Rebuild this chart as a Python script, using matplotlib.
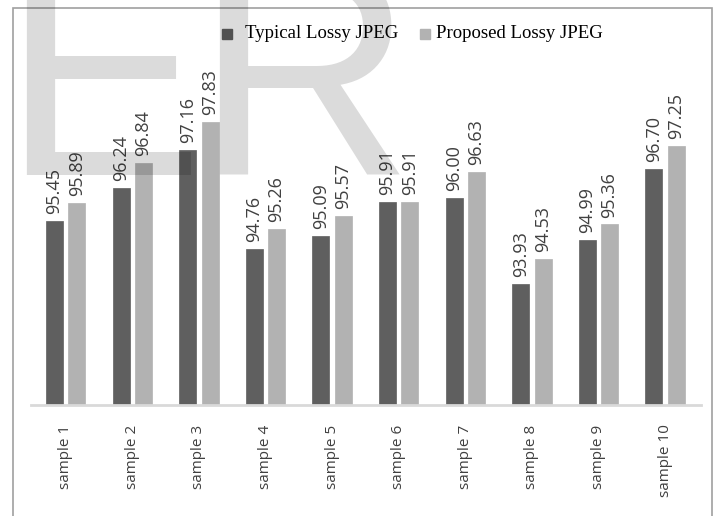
import numpy as np
import matplotlib.pyplot as plt
from matplotlib.patches import Rectangle

# data
samples = ["sample 1", "sample 2", "sample 3", "sample 4", "sample 5",
           "sample 6", "sample 7", "sample 8", "sample 9", "sample 10"]
typical = [95.45, 96.24, 97.16, 94.76, 95.09, 95.91, 96.00, 93.93, 94.99, 96.70]
proposed = [95.89, 96.84, 97.83, 95.26, 95.57, 95.91, 96.63, 94.53, 95.36, 97.25]
series_names = ["Typical Lossy JPEG", "Proposed Lossy JPEG"]

DARK = "#5f5f5f"
LIGHT = "#b2b2b2"
BASE = 91.0

fig = plt.figure(figsize=(7.2, 5.16), dpi=100)
ax = fig.add_axes([31 / 720, 1 - 405 / 516, 670 / 720, (405 - 73.8) / 516])

x = np.arange(len(samples))
w = 0.255
off = 0.168
for vals, color, dx in [(typical, DARK, -off), (proposed, LIGHT, off)]:
    ax.bar(x + dx, np.array(vals) - BASE, w, bottom=BASE, color=color,
           edgecolor=color, linewidth=0.5, zorder=2)
    for xi, v in zip(x, vals):
        ax.annotate(f"{v:.2f}", (xi + dx, v), xytext=(0, 5),
                    textcoords="offset points", rotation=90,
                    ha="center", va="bottom", fontsize=13,
                    family="Open Sans", color="#404040", zorder=3)

ax.set_xlim(-0.52, 9.54)
ax.set_ylim(BASE, 99)
ax.set_yticks([])
ax.set_xticks(x)
ax.set_xticklabels(samples, rotation=90, fontsize=11, family="Open Sans",
                   color="#404040")
ax.tick_params(axis="x", length=0, pad=14)
for s in ["top", "left", "right"]:
    ax.spines[s].set_visible(False)
ax.spines["bottom"].set_color("#d9d9d9")
ax.spines["bottom"].set_linewidth(2)
ax.patch.set_visible(False)

# legend drawn as text in the header area
fig.patches.append(Rectangle((222 / 720, 1 - 39 / 516), 10 / 720, 10 / 516,
                             transform=fig.transFigure, color=DARK))
fig.text(245 / 720, 1 - 33 / 516, series_names[0], family="Liberation Serif",
         fontsize=13.5, va="center", ha="left", color="black")
fig.patches.append(Rectangle((420 / 720, 1 - 39 / 516), 10 / 720, 10 / 516,
                             transform=fig.transFigure, color=LIGHT))
fig.text(436 / 720, 1 - 33 / 516, series_names[1], family="Liberation Serif",
         fontsize=13.5, va="center", ha="left", color="black")

# outer chart frame
fig.patches.append(Rectangle((13 / 720, -0.05), (712 - 13) / 720, 1.05 - 8 / 516,
                             transform=fig.transFigure, fill=False,
                             edgecolor="#a0a0a0", linewidth=1.2))

# watermark
fig.text(1 / 720, 1 - 175 / 516, "E", family="Liberation Sans", fontsize=218,
         color="black", alpha=0.14, ha="left", va="baseline", zorder=10)
fig.text(194 / 720, 1 - 175 / 516, "R", family="Liberation Sans", fontsize=218,
         color="black", alpha=0.14, ha="left", va="baseline", zorder=10)

fig.savefig("out.png", dpi=100)
